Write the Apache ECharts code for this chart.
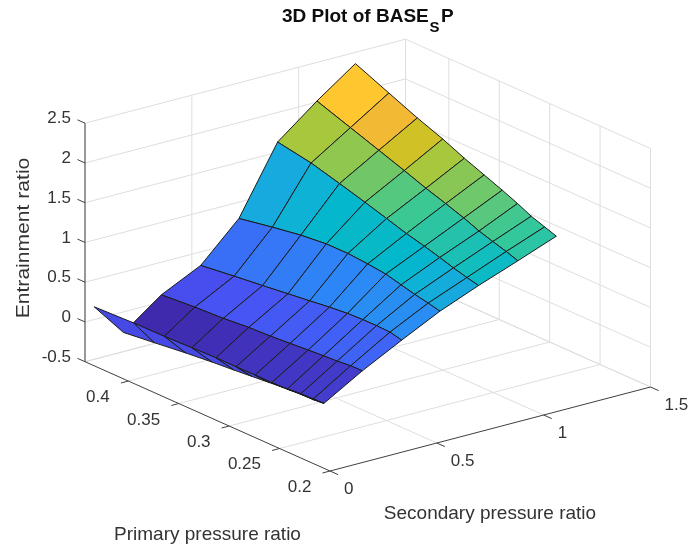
<!DOCTYPE html>
<html>
<head>
<meta charset="utf-8">
<style>html,body{margin:0;padding:0;background:#fff}#c{width:689px;height:547px}</style>
<script src="https://cdn.jsdelivr.net/npm/echarts@6/dist/echarts.min.js"></script>
</head>
<body>
<div id="c"></div>
<script>
// ---- tick labels ----
const secondaryTicks = [0, 0.5, 1, 1.5];
const secondaryTickLabels = ['0', '0.5', '1', '1.5'];
const primaryTicks = [0.2, 0.25, 0.3, 0.35, 0.4];
const primaryTickLabels = ['0.2', '0.25', '0.3', '0.35', '0.4'];
const entrainmentTicks = [-0.5, 0, 0.5, 1, 1.5, 2, 2.5];
const entrainmentTickLabels = ['-0.5', '0', '0.5', '1', '1.5', '2', '2.5'];

// ---- values ----
const primaryRatio = [0.427, 0.3938, 0.3656, 0.3404, 0.3189, 0.2993, 0.2814, 0.2662, 0.2526, 0.2393, 0.2277];

const secondaryR6 = 1.19, secondaryR5 = 1.01, secondaryR4 = 0.826, secondaryR3 = 0.645, secondaryR2 = 0.466, secondaryR1 = 0.282;
const secondaryR0 = [0.151, 0.139, 0.135, 0.129, 0.121, 0.118, 0.111, 0.112, 0.110, 0.105, 0.102];
const secondaryFold = [0.248, 0.241, 0.230, 0.214, 0.197, 0.185, 0.166, 0.155, 0.143, 0.122, 0.102];

const entrainmentR6 = [2.502, 2.320, 2.166, 2.044, 1.923, 1.824, 1.734, 1.652, 1.569, 1.510, 1.459];
const entrainmentR5 = [2.158, 2.011, 1.886, 1.773, 1.672, 1.590, 1.511, 1.433, 1.377, 1.327, 1.276];
const entrainmentR4 = [1.772, 1.696, 1.597, 1.504, 1.421, 1.343, 1.285, 1.229, 1.175, 1.129, 1.094];
const entrainmentR3 = [0.938, 1.016, 1.075, 1.108, 1.109, 1.089, 1.062, 1.013, 0.969, 0.935, 0.899];
const entrainmentR2 = [0.473, 0.526, 0.567, 0.606, 0.639, 0.671, 0.693, 0.701, 0.702, 0.696, 0.661];
const entrainmentR1 = [0.233, 0.266, 0.284, 0.313, 0.325, 0.344, 0.362, 0.376, 0.386, 0.402, 0.405];
const entrainmentR0 = [-0.027, -0.001, 0.018, 0.039, 0.053, 0.062, 0.072, 0.077, 0.092, 0.104, 0.122];
const entrainmentFold = [-0.344, -0.283, -0.229, -0.176, -0.123, -0.08, -0.028, 0.009, 0.038, 0.084, 0.122];

const leadSecondary = [0.043, 0.104];
const leadPrimary = [0.443, 0.427];
const leadEntrainment = [0.16, -0.114];
const foldColorValue = 0.2;

// ---- scales and styling ----
const xLim = [0, 1.5], yLim = [0.2, 0.443], zLim = [-0.5, 2.5];
const origin = [330, 471], xEnd = [650.5, 387], yEnd = [85, 361.7], zRise = 238.5;
const colorLim = [-0.12, 2.55];
const colorStops = [[0,'#3E26A8'],[0.04,'#3F2BAE'],[0.143,'#4852F4'],[0.286,'#2D87F7'],[0.41,'#14AEDB'],[0.45,'#03B8CC'],[0.571,'#37C897'],[0.714,'#ABC739'],[0.755,'#D3C024'],[0.80,'#F2B935'],[0.857,'#FFC830'],[1,'#F9FB15']];
const gridColor = '#dedede', axisColor = '#404040', textColor = '#333333';
const fontFamily = '"Liberation Sans", Arial, sans-serif';
const tickFont = 17, titleFont = 19;

const lm = echarts.number.linearMap;
function project(x, y, z) {
  const tx = lm(x, xLim, [0, 1]), ty = lm(y, yLim, [0, 1]), tz = lm(z, zLim, [0, 1]);
  return [
    origin[0] + tx * (xEnd[0] - origin[0]) + ty * (yEnd[0] - origin[0]),
    origin[1] + tx * (xEnd[1] - origin[1]) + ty * (yEnd[1] - origin[1]) - tz * zRise
  ];
}
function colorOf(v) {
  const t = Math.min(1, Math.max(0, lm(v, colorLim, [0, 1])));
  for (let i = 1; i < colorStops.length; i++) {
    if (t <= colorStops[i][0]) {
      const a = colorStops[i - 1], b = colorStops[i];
      return echarts.color.lerp((t - a[0]) / (b[0] - a[0]), [a[1], b[1]]);
    }
  }
  return colorStops[colorStops.length - 1][1];
}

// rows ordered from the back of the view to the front
const fill = (v) => primaryRatio.map(() => v);
const rowX = [fill(secondaryR6), fill(secondaryR5), fill(secondaryR4), fill(secondaryR3), fill(secondaryR2), fill(secondaryR1), secondaryR0, secondaryFold];
const rowZ = [entrainmentR6, entrainmentR5, entrainmentR4, entrainmentR3, entrainmentR2, entrainmentR1, entrainmentR0, entrainmentFold];

const cells = [];
for (let r = 0; r < rowX.length - 1; r++) {
  for (let c = 0; c < primaryRatio.length - 1; c++) {
    const cv = r === rowX.length - 2 ? foldColorValue : rowZ[r + 1][c];
    cells.push([
      rowX[r][c], primaryRatio[c], rowZ[r][c],
      rowX[r][c + 1], primaryRatio[c + 1], rowZ[r][c + 1],
      rowX[r + 1][c + 1], primaryRatio[c + 1], rowZ[r + 1][c + 1],
      rowX[r + 1][c], primaryRatio[c], rowZ[r + 1][c],
      cv
    ]);
  }
}
// the extra leading cell on the near-left edge of the surface
cells.push([
  leadSecondary[0], leadPrimary[0], leadEntrainment[0],
  secondaryR0[0], primaryRatio[0], entrainmentR0[0],
  secondaryFold[0], primaryRatio[0], entrainmentFold[0],
  leadSecondary[1], leadPrimary[1], leadEntrainment[1],
  foldColorValue
]);

// background grid
const gridSegs = [];
const [x0, x1] = xLim, [y0, y1] = yLim, [z0, z1] = zLim;
secondaryTicks.forEach(x => {
  if (x > x0) gridSegs.push([x, y0, z0, x, y1, z0]);
  gridSegs.push([x, y1, z0, x, y1, z1]);
});
primaryTicks.forEach(y => {
  if (y > y0) gridSegs.push([x0, y, z0, x1, y, z0]);
  gridSegs.push([x1, y, z0, x1, y, z1]);
});
gridSegs.push([x0, y1, z0, x1, y1, z0]);
gridSegs.push([x1, y1, z0, x1, y1, z1]);
entrainmentTicks.forEach(z => {
  gridSegs.push([x0, y1, z, x1, y1, z]);
  gridSegs.push([x1, y1, z, x1, y0, z]);
});

// axis lines and ticks
const axisSegs = [[x0, y1, z0, x0, y1, z1], [x0, y0, z0, x0, y1, z0], [x0, y0, z0, x1, y0, z0]];
secondaryTicks.forEach(x => axisSegs.push([x, y0, z0, x, y0 - 0.008, z0]));
primaryTicks.forEach(y => axisSegs.push([x0, y, z0, x0 - 0.035, y, z0]));
entrainmentTicks.forEach(z => axisSegs.push([x0, y1, z, x0, y1 + 0.0075, z]));

const tickTexts = [];
secondaryTicks.forEach((x, i) => tickTexts.push({ value: [x, y0, z0, 14, 18, 0], name: secondaryTickLabels[i] }));
primaryTicks.forEach((y, i) => tickTexts.push({ value: [x0, y, z0, -18.6, 16.3, 1], name: primaryTickLabels[i] }));
entrainmentTicks.forEach((z, i) => tickTexts.push({ value: [x0, y1, z, -14, -4.5, 1], name: entrainmentTickLabels[i] }));

function lineItem(color, width) {
  return function (params, api) {
    const a = project(api.value(0), api.value(1), api.value(2));
    const b = project(api.value(3), api.value(4), api.value(5));
    return { type: 'line', silent: true, shape: { x1: a[0], y1: a[1], x2: b[0], y2: b[1] }, style: { stroke: color, lineWidth: width, fill: null } };
  };
}
function labelText(text, x, y, align) {
  return { type: 'text', x, y, style: { text, font: titleFont + 'px ' + fontFamily, fill: textColor, textAlign: align, textVerticalAlign: 'middle' } };
}
function titleText(text, x, y, size) {
  return { type: 'text', x, y, style: { text, font: 'bold ' + size + 'px ' + fontFamily, fill: '#0d0d0d', textAlign: 'left', textVerticalAlign: 'middle' } };
}

const chart = echarts.init(document.getElementById('c'), null, { renderer: 'canvas', width: 689, height: 547 });
chart.setOption({
  animation: false,
  backgroundColor: '#fff',
  series: [
    { type: 'custom', coordinateSystem: 'none', z: 1, silent: true, data: gridSegs, renderItem: lineItem(gridColor, 1) },
    {
      type: 'custom', coordinateSystem: 'none', z: 2, silent: true, data: cells,
      renderItem(params, api) {
        const pts = [0, 3, 6, 9].map(k => project(api.value(k), api.value(k + 1), api.value(k + 2)));
        return { type: 'polygon', silent: true, shape: { points: pts }, style: { fill: colorOf(api.value(12)), stroke: '#1c1c1c', lineWidth: 1, lineJoin: 'round' } };
      }
    },
    { type: 'custom', coordinateSystem: 'none', z: 3, silent: true, data: axisSegs, renderItem: lineItem(axisColor, 1) },
    {
      type: 'custom', coordinateSystem: 'none', z: 4, silent: true, data: tickTexts,
      renderItem(params, api) {
        const p = project(api.value(0), api.value(1), api.value(2));
        return {
          type: 'text', silent: true,
          style: {
            x: p[0] + api.value(3), y: p[1] + api.value(4), text: tickTexts[params.dataIndex].name,
            font: tickFont + 'px ' + fontFamily, fill: textColor,
            textAlign: api.value(5) ? 'right' : 'left', textVerticalAlign: 'middle'
          }
        };
      }
    }
  ],
  graphic: [
    titleText('3D Plot of BASE', 282, 17, 19),
    titleText('S', 429.5, 28, 15),
    titleText('P', 441, 17, 19),
    labelText('Secondary pressure ratio', 490, 514, 'center'),
    labelText('Primary pressure ratio', 207.5, 535, 'center'),
    { type: 'text', x: 24, y: 238, rotation: Math.PI / 2, scaleX: 1.11, style: { text: 'Entrainment ratio', font: titleFont + 'px ' + fontFamily, fill: textColor, textAlign: 'center', textVerticalAlign: 'middle' } }
  ]
});
</script>
</body>
</html>
